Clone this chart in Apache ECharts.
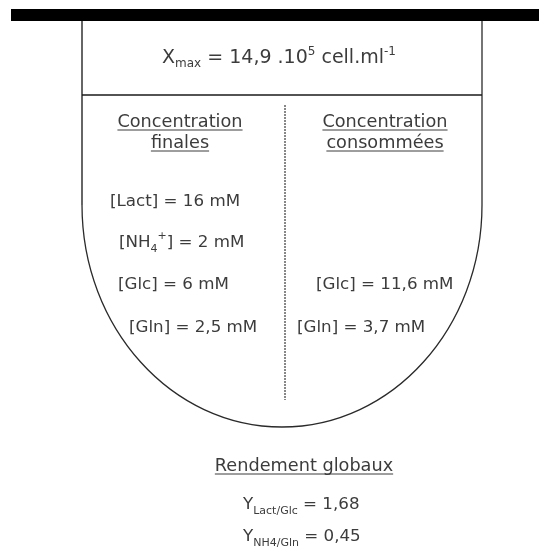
<!DOCTYPE html>
<html><head><meta charset="utf-8">
<script src="https://cdn.jsdelivr.net/npm/echarts@6/dist/echarts.min.js"></script>
<style>html,body{margin:0;padding:0;background:#fff}#c{width:539px;height:552px}</style>
</head><body><div id="c"></div>
<script>
// ---- content ----
const xmaxSymbol = ['X', 'max'];
const xmaxValue = '14,9';
const xmaxExp = '5';
const xmaxUnit = 'cell.ml';
const xmaxUnitExp = '-1';
const colTitles = [['Concentration', 'finales'], ['Concentration', 'consommées']];
const finalSpecies = ['Lact', 'NH4+', 'Glc', 'Gln'];
const finalValues = ['16', '2', '6', '2,5'];
const consumedSpecies = ['Glc', 'Gln'];
const consumedValues = ['11,6', '3,7'];
const yieldTitle = 'Rendement globaux';
const yieldNames = ['Lact/Glc', 'NH4/Gln'];
const yieldValues = ['1,68', '0,45'];
const unit = 'mM';

// ---- layout / style ----
const FONT = 'DejaVu Sans, Verdana, sans-serif';
const TXT = '#3c3c3c';
const BASE = 16.7;
const TITLE = 17.7;
const SMALL = 11;
const finalPos = [[110, 202], [119, 243], [118, 285], [129, 328]];
const consumedPos = [[316, 285], [297, 328]];
const titleCenters = [180, 385];

function rich(size, small) {
  return {
    t: {fontSize: size, lineHeight: 24, fontFamily: FONT, fill: TXT},
    sb: {fontSize: small || SMALL, lineHeight: 11, fontFamily: FONT, fill: TXT, verticalAlign: 'bottom'},
    sp: {fontSize: small || SMALL, lineHeight: 11, fontFamily: FONT, fill: TXT, verticalAlign: 'top'}
  };
}
function speciesTokens(s) {
  if (s === 'NH4+') return '{t|[NH}{sb|4}{sp|+}{t|]}';
  return '{t|[' + s + ']}';
}
function richText(x, y, text, align, size, small) {
  return {
    type: 'text', x: x, y: y,
    style: {text: text, rich: rich(size || BASE, small), align: align || 'left', verticalAlign: 'middle',
      fontSize: size || BASE, fontFamily: FONT, fill: TXT}
  };
}
function plainText(x, y, text) {
  return {type: 'text', x: x, y: y,
    style: {text: text, align: 'center', verticalAlign: 'middle', fontSize: TITLE, fontFamily: FONT, fill: TXT}};
}
function underline(cx, y, text) {
  const ctx = document.createElement('canvas').getContext('2d');
  ctx.font = TITLE + 'px ' + FONT;
  const w = ctx.measureText(text).width;
  return {type: 'line', shape: {x1: cx - w / 2, y1: y, x2: cx + w / 2, y2: y}, style: {stroke: TXT, lineWidth: 1}};
}

const L = 82, R = 482, TOP = 21, MID = 95, ARC_Y = 205, CX = (L + R) / 2, RX = (R - L) / 2, RY = 222;
const K = 0.5523, BOT = ARC_Y + RY;
const OUT = {stroke: '#2a2a2a', lineWidth: 1.3};
const elements = [];
elements.push({type: 'rect', shape: {x: 11, y: 9, width: 528, height: 12}, style: {fill: '#000'}});
elements.push({type: 'line', shape: {x1: L, y1: TOP, x2: L, y2: ARC_Y}, style: {stroke: '#666', lineWidth: 2}});
elements.push({type: 'line', shape: {x1: R, y1: TOP, x2: R, y2: ARC_Y}, style: OUT});
elements.push({type: 'bezierCurve', shape: {x1: R, y1: ARC_Y, cpx1: R, cpy1: ARC_Y + K * RY, cpx2: CX + K * RX, cpy2: BOT, x2: CX, y2: BOT}, style: Object.assign({fill: null}, OUT)});
elements.push({type: 'bezierCurve', shape: {x1: CX, y1: BOT, cpx1: CX - K * RX, cpy1: BOT, cpx2: L, cpy2: ARC_Y + K * RY, x2: L, y2: ARC_Y}, style: Object.assign({fill: null}, OUT)});
elements.push({type: 'line', shape: {x1: L, y1: MID, x2: R, y2: MID}, style: {stroke: '#1a1a1a', lineWidth: 1.5}});
elements.push({type: 'line', shape: {x1: 285, y1: 105, x2: 285, y2: 400}, style: {stroke: '#111', lineWidth: 1, lineDash: [2, 1]}});

// Xmax
elements.push(richText(279, 58,
  '{t|' + xmaxSymbol[0] + '}{sb|' + xmaxSymbol[1] + '}{t| = ' + xmaxValue + ' .10}{sp|' + xmaxExp + '}{t| ' + xmaxUnit + '}{sp|' + xmaxUnitExp + '}',
  'center', 19, 12));

// column titles
colTitles.forEach(function (lines, i) {
  elements.push(plainText(titleCenters[i], 122, lines[0]));
  elements.push(underline(titleCenters[i], 130, lines[0]));
  elements.push(plainText(titleCenters[i], 143, lines[1]));
  elements.push(underline(titleCenters[i], 151, lines[1]));
});

finalSpecies.forEach(function (s, i) {
  elements.push(richText(finalPos[i][0], finalPos[i][1], speciesTokens(s) + '{t| = ' + finalValues[i] + ' ' + unit + '}'));
});
consumedSpecies.forEach(function (s, i) {
  elements.push(richText(consumedPos[i][0], consumedPos[i][1], speciesTokens(s) + '{t| = ' + consumedValues[i] + ' ' + unit + '}'));
});

// yields
elements.push(plainText(304, 466, yieldTitle));
elements.push(underline(304, 474, yieldTitle));
const yieldY = [505, 537];
yieldNames.forEach(function (n, i) {
  elements.push(richText(243, yieldY[i], '{t|Y}{sb|' + n + '}{t| = ' + yieldValues[i] + '}'));
});

const chart = echarts.init(document.getElementById('c'), null, {renderer: 'canvas'});
chart.setOption({backgroundColor: '#fff', animation: false, graphic: {elements: elements}});
</script></body></html>
